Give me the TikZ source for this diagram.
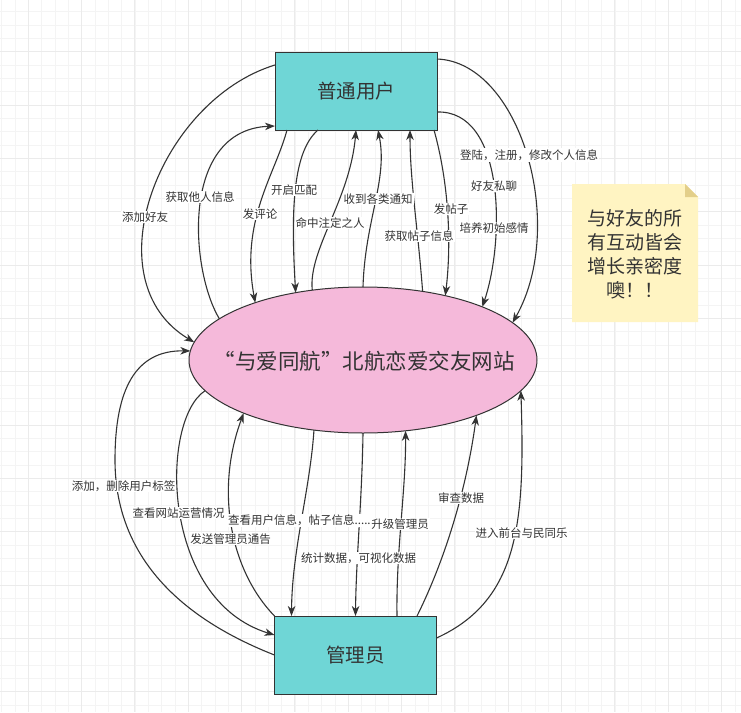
\documentclass[tikz,border=0pt]{standalone}
\usepackage{fontspec}
\setmainfont{Noto Sans CJK SC}
\usetikzlibrary{arrows.meta,shapes.geometric}
\definecolor{ln}{HTML}{333333}
\definecolor{txt}{HTML}{333333}
\definecolor{boxfill}{HTML}{6FD6D6}
\definecolor{pinkfill}{HTML}{F5B9DA}
\definecolor{notefill}{HTML}{FFF4C2}
\definecolor{notefold}{HTML}{E3CF8A}
\definecolor{gridminor}{HTML}{F4F4F4}
\definecolor{gridmajor}{HTML}{EBEBEB}

\begin{document}
\begin{tikzpicture}[x=1pt,y=-1pt,
  actor/.style={draw=ln, line width=1pt, fill=boxfill, minimum width=162pt,
    minimum height=78pt, inner sep=0pt, outer sep=0pt, text=txt,
    font=\fontsize{19.5}{22}\selectfont},
  hub/.style={ellipse, draw=ln, line width=1pt, fill=pinkfill, minimum width=348pt,
    minimum height=146pt, inner sep=0pt, outer sep=0pt},
  hubtext/.style={inner sep=0pt, text=txt, font=\fontsize{21.5}{24}\selectfont},
  lbl/.style={fill=white, inner sep=1pt, text=txt, font=\fontsize{11.5}{13}\selectfont},
  conn/.style={draw=ln, line width=1.1pt, -{Stealth[length=10pt,width=7.5pt,inset=3pt]}},
  notetext/.style={align=center, text=txt, inner sep=0pt, font=\fontsize{19}{24}\selectfont}
]
\useasboundingbox (0,0) rectangle (741,712);
\fill[white] (0,0) rectangle (741,712);

% background grid
\foreach \i in {0,...,55}
  \draw[gridminor, line width=0.8pt] ({1.7+13.333*\i},0) -- ({1.7+13.333*\i},712);
\foreach \i in {1,...,53}
  \draw[gridminor, line width=0.8pt] (0,{-1.6+13.333*\i}) -- (741,{-1.6+13.333*\i});
\foreach \i in {0,...,13}
  \draw[gridmajor, line width=1pt] ({28.3+53.333*\i},0) -- ({28.3+53.333*\i},712);
\foreach \i in {0,...,12}
  \draw[gridmajor, line width=1pt] (0,{51.7+53.333*\i}) -- (741,{51.7+53.333*\i});

% main nodes
\node[actor] (user) at (356,91) {普通用户};
\node[hub] (site) at (363,360) {};
\node[hubtext] (sitetext) at (364,361) {“与爱同航”北航恋爱交友网站};
\node[actor] (admin) at (355.5,655) {管理员};

% sticky note
\path (572,184) coordinate (nnw) (698,322) coordinate (nse);
\fill[notefill] (nnw) -- ([xshift=-13pt]nnw -| nse) -- ([yshift=-13pt]nnw -| nse)
  -- (nse) -- (nnw |- nse) -- cycle;
\fill[notefold] ([xshift=-13pt]nnw -| nse) -- ([yshift=-13pt]nnw -| nse)
  -- ([xshift=-13pt,yshift=-13pt]nnw -| nse) -- cycle;
\node[notetext] (note) at (635,254) {与好友的所\\有互动皆会\\增长亲密度\\噢！！};

% connectors between user and site
\draw[conn] ([yshift=-13pt]user.north west) .. controls (160,100) and (90,280) .. (site.174.4);
\draw[conn] (site.164.5) .. controls (190,270) and (180,130) .. ([yshift=4pt]user.south west);
\draw[conn] ([xshift=12pt]user.south west) .. controls (275,175) and (240,220) .. (site.152);
\draw[conn] ([xshift=43pt]user.south west) .. controls (295,150) and (290,200) .. (site.135);
\draw[conn] (site.126.8) .. controls (308,250) and (350,200) .. (user.south);
\draw[conn] (site.90) .. controls (365,220) and (388,180) .. ([xshift=22pt]user.south);
\draw[conn] (site.49.3) .. controls (418,230) and (410,180) .. ([xshift=54pt]user.south);
\draw[conn] ([xshift=-3pt]user.south east) .. controls (448,180) and (452,240) .. (site.38.6);
\draw[conn] ([yshift=-60pt]user.north east) .. controls (505,110) and (505,240) .. (site.24.8);
\draw[conn] ([yshift=-7pt]user.north east) .. controls (520,62) and (568,225) .. (site.14.2);

% connectors between admin and site
\draw[conn] (admin.west) .. controls (160,610) and (115,540) .. (115,460)
  .. controls (115,390) and (135,350) .. (site.177.7);
\draw[conn] (site.191.7) .. controls (160,420) and (160,600) .. ([yshift=-19pt]admin.north west);
\draw[conn] (admin.north west) .. controls (230,570) and (215,490) .. (site.204.4);
\draw[conn] (site.235.6) .. controls (310,490) and (292,550) .. ([xshift=17pt]admin.north west);
\draw[conn] (site.270) .. controls (362,500) and (356,560) .. (admin.north);
\draw[conn] ([xshift=41.5pt]admin.north) .. controls (396,550) and (406,490) .. (site.301.3);
\draw[conn] ([xshift=61.5pt]admin.north) .. controls (440,570) and (465,500) .. (site.334.9);
\draw[conn] ([yshift=-22pt]admin.north east) .. controls (520,600) and (525,520) .. (site.349.4);

% connector labels
\node[lbl] (t1) at (145,217) {添加好友};
\node[lbl] (t2) at (200,197) {获取他人信息};
\node[lbl] (t3) at (260,214) {发评论};
\node[lbl] (t4) at (294,190) {开启匹配};
\node[lbl] (t5) at (330,223) {命中注定之人};
\node[lbl] (t6) at (378,199) {收到各类通知};
\node[lbl] (t7) at (419,236) {获取帖子信息};
\node[lbl] (t8) at (451,209) {发帖子};
\node[lbl] (t9) at (494,186) {好友私聊};
\node[lbl] (t9b) at (494,228) {培养初始感情};
\node[lbl] (t10) at (529,155) {登陆，注册，修改个人信息};
\node[lbl] (b1) at (123.5,486) {添加，删除用户标签};
\node[lbl] (b2) at (178.5,513) {查看网站运营情况};
\node[lbl] (b3) at (230.5,539) {发送管理员通告};
\node[lbl] (b4) at (301,520) {查看用户信息，帖子信息......};
\node[lbl] (b5) at (358.5,558) {统计数据，可视化数据};
\node[lbl] (b6) at (400,524) {升级管理员};
\node[lbl] (b7) at (461,498) {审查数据};
\node[lbl] (b8) at (521.5,533) {进入前台与民同乐};
\end{tikzpicture}
\end{document}
